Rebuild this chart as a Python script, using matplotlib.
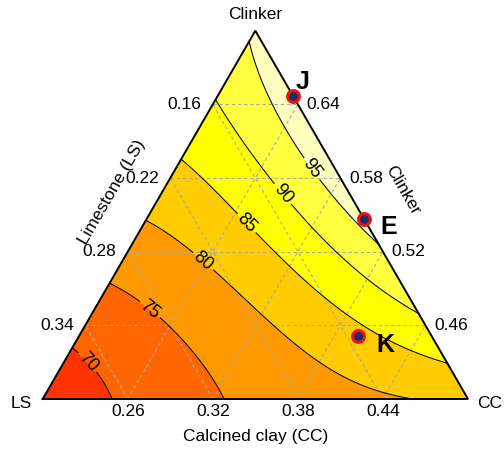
import numpy as np
import matplotlib.pyplot as plt
import matplotlib.tri as mtri

plt.rcParams['font.family'] = ['Liberation Sans', 'DejaVu Sans']

# component bounds (real proportions)
clk_min, ls_min, cc_min = 0.40, 0.10, 0.20
span = 0.30

# fitted special cubic model on L-pseudo components (Clinker, LS, CC)
b_clk, b_ls, b_cc = 95.93, 66.14, 80.65
b_clk_ls, b_clk_cc, b_ls_cc = -2.35, 32.56, 10.92
b_all = -93.53

levels = [65, 70, 75, 80, 85, 90, 95, 100]
fill_colors = ['#FF3300', '#FF6600', '#FF9900', '#FFCC00', '#FFFF00', '#FFFF40', '#FFFFBF']
line_levels = [70, 75, 80, 85, 90, 95]

grid_clk = [0.46, 0.52, 0.58, 0.64]
grid_ls = [0.16, 0.22, 0.28, 0.34]
grid_cc = [0.26, 0.32, 0.38, 0.44]

# design points
pt_names = ['J', 'E', 'K']
pt_clk = [0.647, 0.547, 0.451]
pt_ls = [0.100, 0.100, 0.152]
pt_cc = [0.253, 0.353, 0.397]


def to_xy(clk, ls, cc):
    z1 = (np.asarray(clk) - clk_min) / span
    z3 = (np.asarray(cc) - cc_min) / span
    return z3 + 0.5 * z1, z1 * np.sqrt(3) / 2


def model(z1, z2, z3):
    return (b_clk * z1 + b_ls * z2 + b_cc * z3 + b_clk_ls * z1 * z2
            + b_clk_cc * z1 * z3 + b_ls_cc * z2 * z3 + b_all * z1 * z2 * z3)


fig = plt.figure(figsize=(5.04, 4.49), dpi=100)
ax = fig.add_axes([0, 0, 1, 1])
ax.set_xlim(-0.1004, 1.0847)
ax.set_ylim(-0.1176, 0.9382)
ax.axis('off')

# lattice over the simplex
n = 160
ii, jj = np.meshgrid(np.arange(n + 1), np.arange(n + 1))
mask = ii + jj <= n
z1 = ii[mask] / n
z3 = jj[mask] / n
z2 = 1 - z1 - z3
gx = z3 + 0.5 * z1
gy = z1 * np.sqrt(3) / 2
tri = mtri.Triangulation(gx, gy)
resp = model(z1, z2, z3)

ax.tricontourf(tri, resp, levels=levels, colors=fill_colors)

# dashed grid
gs = dict(color='#A8A8A8', lw=0.8, ls=(0, (3, 2.5)), zorder=2)
for c in grid_clk:
    x, y = to_xy([c, c], [1 - c - cc_min, ls_min], [cc_min, 1 - c - ls_min])
    ax.plot(x, y, **gs)
for v in grid_cc:
    x, y = to_xy([clk_min, 1 - v - ls_min], [1 - v - clk_min, ls_min], [v, v])
    ax.plot(x, y, **gs)
for v in grid_ls:
    x, y = to_xy([clk_min, 1 - v - cc_min], [v, v], [1 - v - clk_min, cc_min])
    ax.plot(x, y, **gs)

cs = ax.tricontour(tri, resp, levels=line_levels, colors='black', linewidths=0.75, zorder=3)
lab_px = [(88, 362), (152, 307), (205, 259), (248, 222), (285, 192), (313, 168)]
lab_pos = [((px - 42.7) / 425.3, (399 - py) / 425.3) for px, py in lab_px]
ax.clabel(cs, levels=line_levels, fmt='%d', fontsize=13, manual=lab_pos, inline=True,
          inline_spacing=3)

# triangle outline
tx, ty = to_xy([clk_min, clk_min, clk_min + span, clk_min],
               [ls_min + span, ls_min, ls_min, ls_min + span],
               [cc_min, cc_min + span, cc_min, cc_min])
ax.plot(tx, ty, color='black', lw=1.4, zorder=4, solid_joinstyle='miter')

# tick labels
fs = 12.5
for c in grid_clk:
    x, y = to_xy(c, 1 - c - cc_min, cc_min)
    ax.text(x - 0.027, y, f'{1 - c - cc_min:.2f}', ha='right', va='center', fontsize=fs)
    x, y = to_xy(c, ls_min, 1 - c - ls_min)
    ax.text(x + 0.02, y, f'{c:.2f}', ha='left', va='center', fontsize=fs)
for v in grid_cc:
    x, y = to_xy(clk_min, 1 - v - clk_min, v)
    ax.text(x, y - 0.012, f'{v:.2f}', ha='center', va='top', fontsize=fs)

# vertex and axis titles
ax.text(0.5, 0.905, 'Clinker', ha='center', va='center', fontsize=fs)
ax.text(-0.05, -0.01, 'LS', ha='center', va='center', fontsize=fs)
ax.text(1.05, -0.01, 'CC', ha='center', va='center', fontsize=fs)
ax.text(0.5, -0.088, 'Calcined clay (CC)', ha='center', va='center', fontsize=fs)
ax.text(0.163, 0.487, 'Limestone (LS)', ha='center', va='center', rotation=60, fontsize=fs)
ax.text(0.847, 0.491, 'Clinker', ha='center', va='center', rotation=-60, fontsize=fs)

# design points
px, py = to_xy(pt_clk, pt_ls, pt_cc)
ax.plot(px, py, 'o', ms=8.5, mfc='#1A2A6C', mec='#EE1111', mew=2.2, ls='none', zorder=5)
offsets = [(10, 14), (25, -8), (27, -9)]
for name, x, y, off in zip(pt_names, px, py, offsets):
    ax.annotate(name, (x, y), xytext=off, textcoords='offset pixels', ha='center',
                va='center', fontsize=18, fontweight='bold')

plt.savefig('out.png')
